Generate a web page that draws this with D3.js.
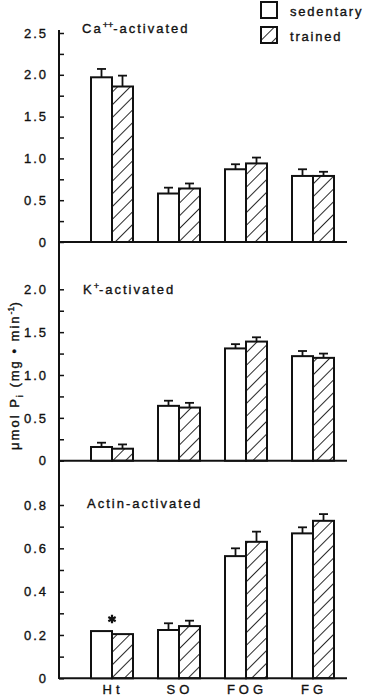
<!DOCTYPE html>
<html>
<head>
  <meta charset="utf-8">
  <script src="https://cdn.jsdelivr.net/npm/d3@7"></script>
  <style>
    body { margin: 0; background: #fff; }
    text { font-family: 'Liberation Sans', Arial, sans-serif; fill: #111; stroke: #111; stroke-width: 0.35px; }
  </style>
</head>
<body>
<svg id="chart" width="367" height="697"></svg>
<script>
// muscle types on the x axis
var categories = ['Ht', 'SO', 'FOG', 'FG'];
var series = ['sedentary', 'trained'];

// Ca++-activated
var caSed = [1.97, 0.58, 0.87, 0.79];
var caSedErr = [0.10, 0.07, 0.06, 0.08];
var caTrn = [1.86, 0.64, 0.94, 0.79];
var caTrnErr = [0.13, 0.06, 0.07, 0.05];

// K+-activated
var kSed = [0.16, 0.64, 1.31, 1.22];
var kSedErr = [0.05, 0.06, 0.05, 0.06];
var kTrn = [0.14, 0.62, 1.39, 1.20];
var kTrnErr = [0.05, 0.055, 0.05, 0.05];

// Actin-activated
var actSed = [0.218, 0.223, 0.564, 0.669];
var actSedErr = [0, 0.031, 0.036, 0.028];
var actTrn = [0.204, 0.241, 0.630, 0.727];
var actTrnErr = [0, 0.025, 0.047, 0.031];

// tick values per panel
var caTicks = [0, 0.5, 1.0, 1.5, 2.0, 2.5];
var kTicks = [0, 0.5, 1.0, 1.5, 2.0];
var actTicks = [0, 0.2, 0.4, 0.6, 0.8];

var svg = d3.select('#chart');
var axisX = 59, rightX = 347;

// hatch pattern for trained bars
var defs = svg.append('defs');
defs.append('pattern')
  .attr('id', 'hatch')
  .attr('patternUnits', 'userSpaceOnUse')
  .attr('width', 9).attr('height', 9)
  .attr('patternTransform', 'rotate(45)')
  .append('line')
  .attr('x1', 0).attr('y1', 0).attr('x2', 0).attr('y2', 9)
  .attr('stroke', '#111').attr('stroke-width', 1.8);

var x = d3.scalePoint().domain(categories).range([112, 313]);
var xs = d3.scaleBand().domain(series).range([-21, 21]);

var panels = [
  { title: ['Ca', '++', '-activated'], tx: 82, ty: 33, sed: caSed, sedErr: caSedErr, trn: caTrn, trnErr: caTrnErr,
    y: d3.scaleLinear().domain([0, 2.5]).range([242, 33]), ticks: caTicks, minor: d3.range(0.25, 2.5, 0.5) },
  { title: ['K', '+', '-activated'], tx: 83, ty: 294, sed: kSed, sedErr: kSedErr, trn: kTrn, trnErr: kTrnErr,
    y: d3.scaleLinear().domain([0, 2.0]).range([460.7, 289.3]), ticks: kTicks, minor: d3.range(0.25, 2.0, 0.5) },
  { title: ['Actin-activated', '', ''], tx: 87, ty: 508, sed: actSed, sedErr: actSedErr, trn: actTrn, trnErr: actTrnErr,
    y: d3.scaleLinear().domain([0, 0.8]).range([678.3, 505]), ticks: actTicks, minor: d3.range(0.1, 0.8, 0.2) }
];

panels.forEach(function (p, i) {
  var g = svg.append('g');

  // major ticks pointing inward, labels on the left
  var ax = g.append('g')
    .attr('transform', 'translate(' + axisX + ',0)')
    .call(d3.axisLeft(p.y).tickValues(p.ticks).tickSizeInner(-5).tickSizeOuter(0).tickPadding(11)
      .tickFormat(d => d === 0 ? '0' : d3.format('.1f')(d)));
  ax.select('.domain').remove();
  ax.selectAll('line').attr('stroke', '#111').attr('stroke-width', 1.5);
  ax.selectAll('text').style('font-size', '13px').style('letter-spacing', '2px')
    .style('font-family', "'Liberation Sans', Arial, sans-serif").attr('fill', '#111');

  var mn = g.append('g')
    .attr('transform', 'translate(' + axisX + ',0)')
    .call(d3.axisLeft(p.y).tickValues(p.minor).tickSizeInner(-5).tickSizeOuter(0).tickFormat(''));
  mn.select('.domain').remove();
  mn.selectAll('line').attr('stroke', '#111').attr('stroke-width', 1.5);

  // baseline
  g.append('line')
    .attr('x1', axisX).attr('x2', rightX)
    .attr('y1', p.y(0)).attr('y2', p.y(0))
    .attr('stroke', '#111').attr('stroke-width', 2);

  // panel title
  var t = g.append('text').attr('x', p.tx).attr('y', p.ty)
    .style('font-size', '13px').style('letter-spacing', '2px');
  t.append('tspan').text(p.title[0]);
  if (p.title[1]) {
    t.append('tspan').attr('dy', -5).style('font-size', '9px').style('letter-spacing', '0px').text(p.title[1]);
    t.append('tspan').attr('dy', 5).text(p.title[2]);
  }

  var rows = [];
  categories.forEach(function (c, j) {
    rows.push({ cat: c, s: 'sedentary', v: p.sed[j], e: p.sedErr[j] });
    rows.push({ cat: c, s: 'trained', v: p.trn[j], e: p.trnErr[j] });
  });

  // error bars
  var eb = g.selectAll('.err').data(rows.filter(d => d.e > 0)).join('g')
    .attr('stroke', '#111').attr('stroke-width', 1.8);
  eb.append('line')
    .attr('x1', d => x(d.cat) + xs(d.s) + xs.bandwidth() / 2)
    .attr('x2', d => x(d.cat) + xs(d.s) + xs.bandwidth() / 2)
    .attr('y1', d => p.y(d.v)).attr('y2', d => p.y(d.v + d.e));
  eb.append('line')
    .attr('x1', d => x(d.cat) + xs(d.s) + xs.bandwidth() / 2 - 4.5)
    .attr('x2', d => x(d.cat) + xs(d.s) + xs.bandwidth() / 2 + 4.5)
    .attr('y1', d => p.y(d.v + d.e)).attr('y2', d => p.y(d.v + d.e));

  // bars
  g.selectAll('.bar').data(rows).join('rect')
    .attr('x', d => x(d.cat) + xs(d.s))
    .attr('width', xs.bandwidth())
    .attr('y', d => p.y(d.v))
    .attr('height', d => p.y(0) - p.y(d.v))
    .attr('fill', d => d.s === 'trained' ? 'url(#hatch)' : '#fff')
    .attr('stroke', '#111').attr('stroke-width', 2);

  if (i === 2) {
    // significance mark above Ht
    g.append('path')
      .attr('d', d3.symbol(d3.symbolAsterisk, 50)())
      .attr('transform', 'translate(' + x('Ht') + ',' + (p.y(p.sed[0]) - 12) + ')')
      .attr('stroke', '#111').attr('stroke-width', 2.2);

    g.selectAll('.cat').data(categories).join('text')
      .attr('x', d => x(d) + 1)
      .attr('y', 694)
      .attr('text-anchor', 'middle')
      .style('font-size', '13px').style('letter-spacing', '4px')
      .text(d => d);
  }
});

// continuous y axis line
svg.append('line')
  .attr('x1', axisX).attr('x2', axisX)
  .attr('y1', 30).attr('y2', 679)
  .attr('stroke', '#111').attr('stroke-width', 2);

// y axis label
var yl = svg.append('text')
  .attr('transform', 'translate(19,375) rotate(-90)')
  .attr('text-anchor', 'middle')
  .style('font-size', '13px').style('letter-spacing', '2px');
yl.append('tspan').text('μmol P');
yl.append('tspan').attr('dy', 4).style('font-size', '9px').text('i');
yl.append('tspan').attr('dy', -4).text(' (mg • min');
yl.append('tspan').attr('dy', -5).style('font-size', '9px').style('letter-spacing', '0px').text('-1');
yl.append('tspan').attr('dy', 5).text(')');

// legend
var legend = svg.append('g').selectAll('g').data(series).join('g')
  .attr('transform', (d, i) => 'translate(261,' + (2 + i * 25) + ')');
legend.append('rect')
  .attr('width', 16).attr('height', 16)
  .attr('fill', d => d === 'trained' ? 'url(#hatch)' : '#fff')
  .attr('stroke', '#111').attr('stroke-width', 2);
legend.append('text')
  .attr('x', 29).attr('y', 14)
  .style('font-size', '13px').style('letter-spacing', '1.8px')
  .text(d => d);
</script>
</body>
</html>
